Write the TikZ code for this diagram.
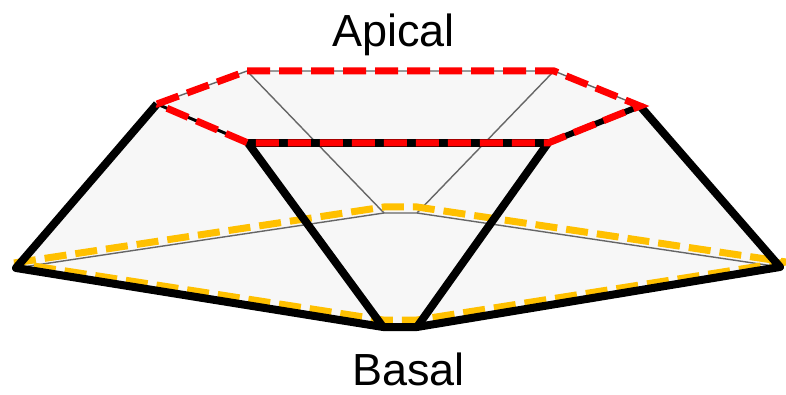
\documentclass[tikz,border=0pt]{standalone}
\usepackage{fontspec}
\setmainfont{Liberation Sans}
\definecolor{basalgold}{HTML}{FFC000}
\begin{document}
\begin{tikzpicture}[x=1pt,y=-1pt,
  facefill/.style={fill=black!3},
  hidden/.style={draw=black!60,line width=1.4pt},
  rim/.style={draw=black,line width=8pt,line join=round},
  apicalrim/.style={draw=red,line width=7pt,dash pattern=on 23pt off 9pt},
  basalrim/.style={draw=basalgold,line width=7pt,dash pattern=on 22pt off 9pt},
  label/.style={font=\fontsize{45}{54}\selectfont,inner sep=0pt,anchor=base}]
\path[use as bounding box] (0,0) rectangle (786,395);

% apical hexagon
\coordinate (A1) at (157,104);
\coordinate (A2) at (247,71);
\coordinate (A3) at (554,71);
\coordinate (A4) at (640,106);
\coordinate (A5) at (548,143);
\coordinate (A6) at (248,143);
% basal hexagon
\coordinate (B1) at (16,268);
\coordinate (B2) at (384,213);
\coordinate (B3) at (417,213);
\coordinate (B4) at (780,267);
\coordinate (B5) at (417,327);
\coordinate (B6) at (383,327);
% basal dashed outline, set just inside the rim
\coordinate (Y1) at (14,263);
\coordinate (Y2) at (384,207);
\coordinate (Y3) at (417,207);
\coordinate (Y4) at (786,262);
\coordinate (Y5) at (417,320);
\coordinate (Y6) at (383,320);

% body of the frustum
\fill[facefill] (B1) -- (A1) -- (A2) -- (A3) -- (A4) -- (B4) -- (B5) -- (B6) -- cycle;

% hidden edges
\draw[hidden] (A1) -- (A2) -- (A3) -- (A4);
\draw[hidden] (A2) -- (B2);
\draw[hidden] (A3) -- (B3);
\draw[hidden] (B1) -- (B2) -- (B3) -- (B4);

% basal outline
\draw[basalrim] (Y1) -- (Y2) -- (Y3) -- (Y4) -- (Y5) -- (Y6) -- cycle;

% visible edges
\draw[draw=black,line width=3pt] (A1) -- (A6);
\draw[rim] (A6) -- (A5);
\draw[draw=black,line width=6pt] (A5) -- (A4);
\draw[rim] (A1) -- (B1) -- (B6) -- (B5) -- (B4) -- (A4);
\draw[rim] (A6) -- (B6);
\draw[rim] (A5) -- (B5);

% apical outline
\draw[apicalrim] (A1) -- (A2) -- (A3) -- (A4) -- (A5) -- (A6) -- cycle;

% labels
\node[label] (apical) at (393.5,47) {Apical};
\node[label] (basal) at (408.5,385) {Basal};
\end{tikzpicture}
\end{document}
